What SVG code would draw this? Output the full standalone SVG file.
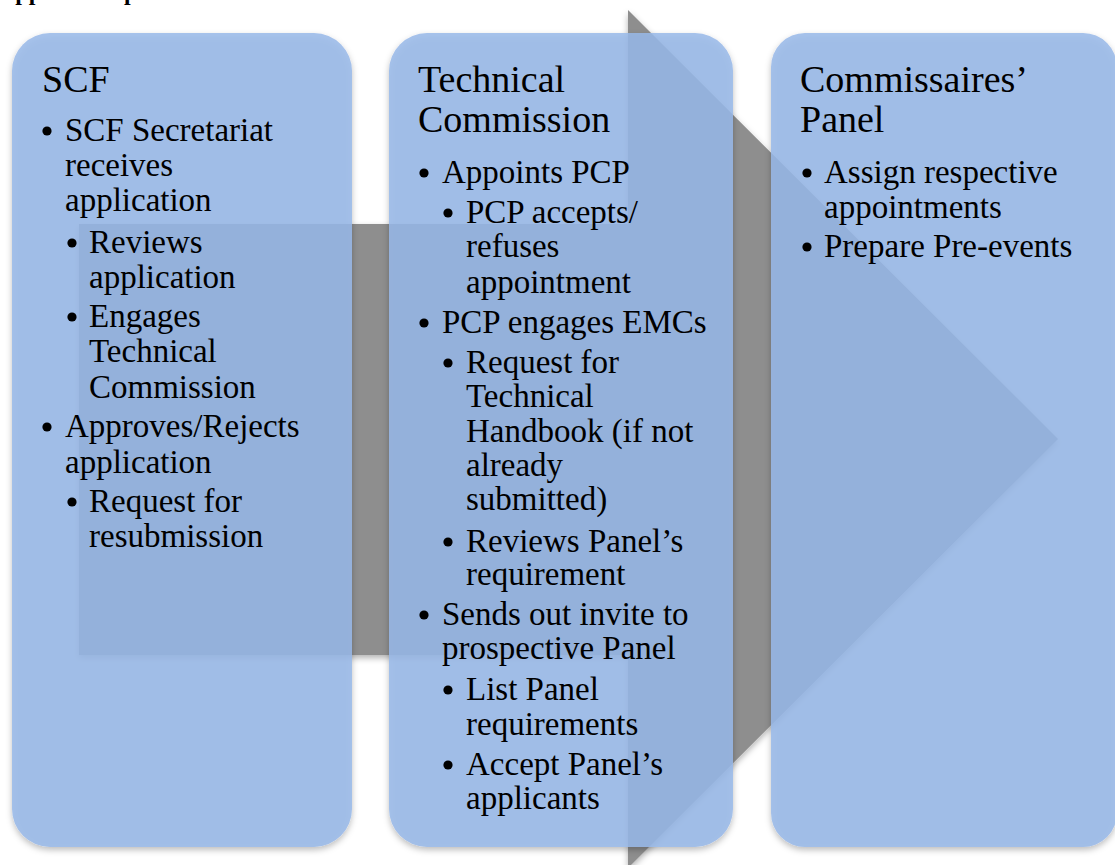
<svg xmlns="http://www.w3.org/2000/svg" width="1115" height="865" viewBox="0 0 1115 865">
  <defs>
    <filter id="softShadow" x="-5%" y="-5%" width="110%" height="110%">
      <feDropShadow dx="0" dy="3" stdDeviation="3" flood-color="#000" flood-opacity="0.3"/>
    </filter>
    <style>
      .heading { font-family: "Liberation Serif", "DejaVu Serif", serif; font-weight: bold; font-size: 24px; fill: #000; }
      .box { fill: rgb(152,185,233); fill-opacity: 0.85; filter: url(#softShadow); }
      .flow { fill: #8e8e8e; filter: url(#softShadow); }
      .title { font-family: "Liberation Serif", "DejaVu Serif", serif; font-size: 38px; fill: #000; }
      .item { font-family: "Liberation Serif", "DejaVu Serif", serif; font-size: 33px; fill: #000; }
      .dot { fill: #000; }
    </style>
  </defs>

  <rect width="1115" height="865" fill="#ffffff"/>

  <!-- page heading, clipped by the top edge -->
  <text class="heading" x="-2" y="0">Application process</text>

  <!-- block arrow running behind the three stages -->
  <g id="connectors">
    <polygon class="flow" points="79,224 628,224 628,10 1058,439 628,868 628,655 79,655"/>
  </g>

  <!-- stage 1 -->
  <g id="scf">
    <rect class="box" x="12" y="33" width="340" height="814" rx="38" ry="38"/>
    <text class="title" x="42" y="92">SCF</text>
    <circle class="dot" cx="47" cy="131" r="4.6"/>
    <text class="item" x="65" y="141">SCF Secretariat</text>
    <text class="item" x="65" y="176">receives</text>
    <text class="item" x="65" y="211">application</text>
    <circle class="dot" cx="72" cy="243" r="4.6"/>
    <text class="item" x="89" y="253">Reviews</text>
    <text class="item" x="89" y="288">application</text>
    <circle class="dot" cx="72" cy="317" r="4.6"/>
    <text class="item" x="89" y="327">Engages</text>
    <text class="item" x="89" y="362">Technical</text>
    <text class="item" x="89" y="398">Commission</text>
    <circle class="dot" cx="47" cy="427" r="4.6"/>
    <text class="item" x="65" y="437">Approves/Rejects</text>
    <text class="item" x="65" y="473">application</text>
    <circle class="dot" cx="72" cy="502" r="4.6"/>
    <text class="item" x="89" y="512">Request for</text>
    <text class="item" x="89" y="547">resubmission</text>
  </g>

  <!-- stage 2 -->
  <g id="technical-commission">
    <rect class="box" x="389" y="33" width="344" height="814" rx="38" ry="38"/>
    <text class="title" x="418" y="92">Technical</text>
    <text class="title" x="418" y="132">Commission</text>
    <circle class="dot" cx="424" cy="173" r="4.6"/>
    <text class="item" x="442" y="183">Appoints PCP</text>
    <circle class="dot" cx="448" cy="213" r="4.6"/>
    <text class="item" x="466" y="223">PCP accepts/</text>
    <text class="item" x="466" y="257">refuses</text>
    <text class="item" x="466" y="293">appointment</text>
    <circle class="dot" cx="424" cy="323" r="4.6"/>
    <text class="item" x="442" y="333">PCP engages EMCs</text>
    <circle class="dot" cx="448" cy="363" r="4.6"/>
    <text class="item" x="466" y="373">Request for</text>
    <text class="item" x="466" y="407">Technical</text>
    <text class="item" x="466" y="442">Handbook (if not</text>
    <text class="item" x="466" y="476">already</text>
    <text class="item" x="466" y="510">submitted)</text>
    <circle class="dot" cx="448" cy="542" r="4.6"/>
    <text class="item" x="466" y="552">Reviews Panel’s</text>
    <text class="item" x="466" y="585">requirement</text>
    <circle class="dot" cx="424" cy="615" r="4.6"/>
    <text class="item" x="442" y="625">Sends out invite to</text>
    <text class="item" x="442" y="659">prospective Panel</text>
    <circle class="dot" cx="448" cy="690" r="4.6"/>
    <text class="item" x="466" y="700">List Panel</text>
    <text class="item" x="466" y="735">requirements</text>
    <circle class="dot" cx="448" cy="765" r="4.6"/>
    <text class="item" x="466" y="775">Accept Panel’s</text>
    <text class="item" x="466" y="809">applicants</text>
  </g>

  <!-- stage 3 -->
  <g id="commissaires-panel">
    <rect class="box" x="771" y="33" width="346" height="814" rx="34" ry="34"/>
    <text class="title" x="800" y="92">Commissaires’</text>
    <text class="title" x="800" y="132">Panel</text>
    <circle class="dot" cx="807" cy="173" r="4.6"/>
    <text class="item" x="824" y="183">Assign respective</text>
    <text class="item" x="824" y="218">appointments</text>
    <circle class="dot" cx="807" cy="247" r="4.6"/>
    <text class="item" x="824" y="257">Prepare Pre-events</text>
  </g>
</svg>
